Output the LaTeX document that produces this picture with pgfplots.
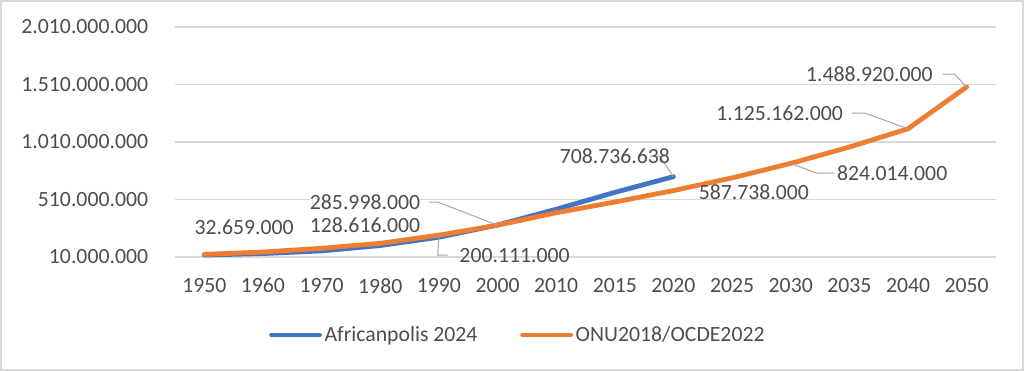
\documentclass[border=0pt]{standalone}
\usepackage{pgfplots}
\pgfplotsset{compat=1.18}
\usepackage{fontspec}
\setmainfont{Carlito}
\definecolor{txt}{HTML}{4D4D4D}
\definecolor{gridc}{HTML}{D9D9D9}
\definecolor{frame}{HTML}{D9D9D9}
\definecolor{cblue}{HTML}{4472C4}
\definecolor{corange}{HTML}{ED7D31}
\definecolor{lead}{HTML}{A6A6A6}
\newcommand{\lf}{\fontsize{16.3}{19}\selectfont}
\begin{document}
\begin{tikzpicture}
\useasboundingbox (0,0) rectangle (768pt,278.25pt);
\fill[white] (0,0) rectangle (768pt,278.25pt);
\draw[frame, line width=1.5pt] (0.75pt,0.75pt) rectangle (767.25pt,277.5pt);
\begin{axis}[
  at={(131.25pt,85.5pt)}, anchor=south west,
  scale only axis, width=615.75pt, height=172.5pt,
  xmin=-0.5, xmax=13.5, ymin=10, ymax=2010,
  xtick={0,...,13},
  xticklabels={1950,1960,1970,1980,1990,2000,2010,2015,2020,2025,2030,2035,2040,2050},
  ytick={10,510,1010,1510,2010},
  yticklabels={10.000.000,510.000.000,1.010.000.000,1.510.000.000,2.010.000.000},
  /pgf/number format/assume math mode=true,
  axis line style={draw=none},
  major tick length=0pt,
  ymajorgrids, grid style={gridc, line width=1pt},
  ticklabel style={font=\lf, text=txt, inner sep=0pt},
  yticklabel style={anchor=east, xshift=-20pt},
  xticklabel style={anchor=north, yshift=-15.75pt},
  legend style={at={(0.418,-0.339)}, anchor=center, draw=none, fill=none,
    legend columns=2, font=\lf, text=txt, inner sep=0pt,
    /tikz/every even column/.append style={column sep=30pt}},
  legend image code/.code={\draw[line width=3.6pt, #1] (0pt,0pt) -- (36pt,0pt);},
  legend cell align=left,
  clip=false,
]
\addplot[cblue, line width=3.6pt, line join=round, line cap=round] coordinates {
(0,27) (1,40) (2,63) (3,110) (4,182) (5,288) (6,425) (7,572) (8,708.737)};
\addlegendentry{Africanpolis 2024}
\addplot[corange, line width=3.6pt, line join=round, line cap=round] coordinates {
(0,32.659) (1,53) (2,86) (3,128.616) (4,200.111) (5,285.998) (6,395) (7,488) (8,587.738) (9,698) (10,824.014) (11,966) (12,1125.162) (13,1488.92)};
\addlegendentry{ONU2018/OCDE2022}
% leader lines
\draw[lead, line width=0.75pt] (axis cs:3.83,488) -- (axis cs:3.98,488) -- (axis cs:5,285.998);
\draw[lead, line width=0.75pt] (axis cs:4,200.111) -- (axis cs:3.98,27) -- (axis cs:4.15,27);
\draw[lead, line width=0.75pt] (axis cs:7.6,888) -- (axis cs:7.76,888) -- (axis cs:8,708.737);
\draw[lead, line width=0.75pt] (axis cs:10.75,740) -- (axis cs:10.44,740) -- (axis cs:10,824.014);
\draw[lead, line width=0.75pt] (axis cs:11.04,1262) -- (axis cs:11.26,1262) -- (axis cs:12,1125.162);
\draw[lead, line width=0.75pt] (axis cs:12.59,1601) -- (axis cs:12.79,1601) -- (axis cs:13,1488.92);
% data labels
\tikzset{dl/.style={font=\lf, text=txt, inner sep=0pt}}
\node[dl] at (axis cs:0.68,271) {32.659.000};
\node[dl] at (axis cs:2.74,288) {128.616.000};
\node[dl, fill=white] at (axis cs:2.74,488) {285.998.000};
\node[dl] at (axis cs:5.29,19) {200.111.000};
\node[dl] at (axis cs:7.0,888) {708.736.638};
\node[dl] at (axis cs:9.37,575) {587.738.000};
\node[dl] at (axis cs:11.73,740) {824.014.000};
\node[dl] at (axis cs:9.81,1262) {1.125.162.000};
\node[dl] at (axis cs:11.34,1601) {1.488.920.000};
\end{axis}
\end{tikzpicture}
\end{document}
